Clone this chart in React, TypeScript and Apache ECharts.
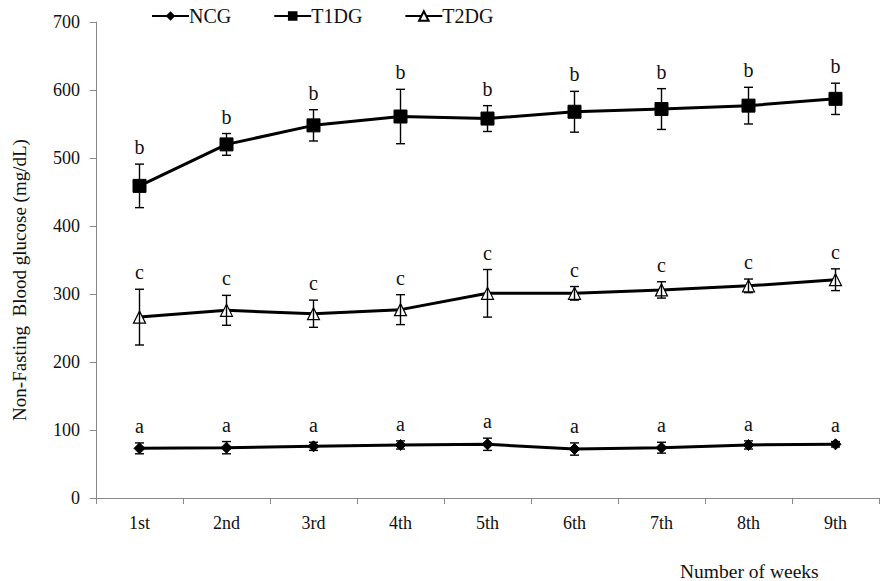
import React, { useEffect, useRef } from "react";
import * as echarts from "echarts";

const weeks = ["1st", "2nd", "3rd", "4th", "5th", "6th", "7th", "8th", "9th"];
const ncgMean = [73, 74, 76, 78, 79, 72, 74, 78, 79];
const ncgErr = [8, 9, 6, 6, 9, 9, 8, 6, 4];
const ncgLetters = ["a", "a", "a", "a", "a", "a", "a", "a", "a"];
const t1Mean = [459, 520, 548, 561, 558, 568, 572, 577, 587];
const t1Err = [32, 16, 23, 40, 19, 30, 30, 27, 23];
const t1Letters = ["b", "b", "b", "b", "b", "b", "b", "b", "b"];
const t2Mean = [266, 276, 271, 277, 301, 301, 306, 312, 321];
const t2Err = [41, 22, 20, 22, 35, 10, 12, 10, 16];
const t2Letters = ["c", "c", "c", "c", "c", "c", "c", "c", "c"];

const FONT = "Liberation Serif";

function errSeries(mean: number[], err: number[], letters: string[]) {
  return {
    type: "custom",
    silent: true,
    z: 5,
    data: mean.map((m, i) => [i, m - err[i], m + err[i]]),
    encode: { x: 0, y: [1, 2] },
    renderItem: (params: any, api: any) => {
      const x = api.value(0);
      const top = api.coord([x, api.value(2)]);
      const bot = api.coord([x, api.value(1)]);
      const w = 4.5;
      const st = { stroke: "#000", lineWidth: 1.4 };
      return {
        type: "group",
        children: [
          { type: "line", shape: { x1: top[0], y1: top[1], x2: bot[0], y2: bot[1] }, style: st },
          { type: "line", shape: { x1: top[0] - w, y1: top[1], x2: top[0] + w, y2: top[1] }, style: st },
          { type: "line", shape: { x1: bot[0] - w, y1: bot[1], x2: bot[0] + w, y2: bot[1] }, style: st },
          {
            type: "text",
            style: {
              text: letters[params.dataIndex],
              x: top[0],
              y: top[1] - 17,
              align: "center",
              verticalAlign: "middle",
              fontFamily: FONT,
              fontSize: 20,
              fill: "#111",
            },
          },
        ],
      };
    },
  };
}

export default function App() {
  const ref = useRef<HTMLDivElement>(null);
  useEffect(() => {
    document.body.style.margin = "0";
    const chart = echarts.init(ref.current!, null, { renderer: "svg" });
    const lineCommon = {
      type: "line",
      z: 4,
      lineStyle: { color: "#000", width: 3 },
      itemStyle: { color: "#000", borderColor: "#000" },
    };
    chart.setOption({
      animation: false,
      textStyle: { fontFamily: FONT },
      legend: {
        data: ["NCG", "T1DG", "T2DG"],
        left: 146,
        top: 1,
        itemWidth: 37,
        itemHeight: 12,
        itemGap: 42,
        textStyle: { fontFamily: FONT, fontSize: 20, color: "#111", padding: [0, 0, 0, -5] },
      },
      grid: { left: 96, right: 7, top: 22, bottom: 83 },
      xAxis: {
        type: "category",
        data: weeks,
        boundaryGap: true,
        axisLine: { lineStyle: { color: "#888", width: 1 } },
        axisTick: { show: true, inside: false, length: 6, lineStyle: { color: "#888" } },
        axisLabel: { fontFamily: FONT, fontSize: 18, color: "#111", margin: 16 },
      },
      yAxis: {
        type: "value",
        min: 0,
        max: 700,
        interval: 100,
        splitLine: { show: false },
        axisLine: { show: true, lineStyle: { color: "#888", width: 1 } },
        axisTick: { show: true, length: 6, lineStyle: { color: "#888" } },
        axisLabel: { fontFamily: FONT, fontSize: 18, color: "#111", margin: 16 },
      },
      graphic: [
        {
          type: "text",
          x: 19,
          y: 280,
          rotation: Math.PI / 2,
          style: {
            text: "Non-Fasting  Blood glucose (mg/dL)",
            fontFamily: FONT,
            fontSize: 19,
            fill: "#111",
            align: "center",
            verticalAlign: "middle",
          },
        },
        {
          type: "text",
          left: 680,
          top: 561,
          style: { text: "Number of weeks", fontFamily: FONT, fontSize: 19.5, fill: "#111" },
        },
      ],
      series: [
        { ...lineCommon, name: "NCG", data: ncgMean, symbol: "diamond", symbolSize: 11 },
        { ...lineCommon, name: "T1DG", data: t1Mean, symbol: "rect", symbolSize: 13 },
        {
          ...lineCommon,
          name: "T2DG",
          data: t2Mean,
          symbol: "triangle",
          symbolSize: 12,
          itemStyle: { color: "#fff", borderColor: "#000", borderWidth: 1.2 },
        },
        errSeries(ncgMean, ncgErr, ncgLetters),
        errSeries(t1Mean, t1Err, t1Letters),
        errSeries(t2Mean, t2Err, t2Letters),
      ],
    });
    return () => chart.dispose();
  }, []);
  return <div ref={ref} style={{ width: 886, height: 581 }} />;
}
